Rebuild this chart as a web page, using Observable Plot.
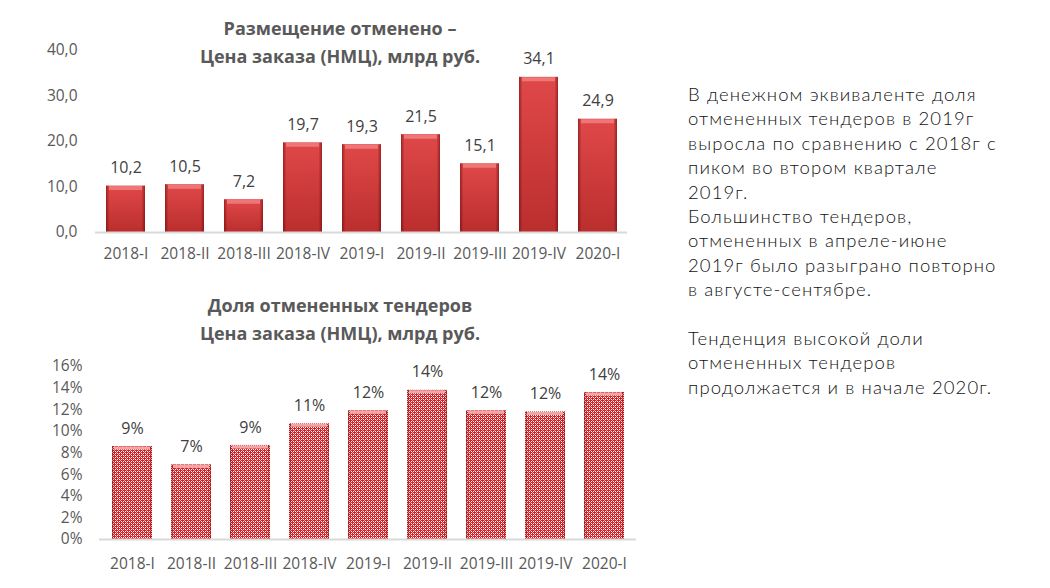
<!DOCTYPE html>
<html>
<head>
<meta charset="utf-8">
<script src="https://cdn.jsdelivr.net/npm/d3@7"></script>
<script src="https://cdn.jsdelivr.net/npm/@observablehq/plot@0.6"></script>
<style>
  html, body { margin: 0; padding: 0; background: #fff; }
  body { width: 1050px; height: 588px; position: relative; overflow: hidden; font-family: "Open Sans", sans-serif; }
  .title { position: absolute; left: 140px; width: 400px; text-align: center; font-weight: bold; font-size: 18px; color: #595959; line-height: 28px; }
  #top { position: absolute; left: 0; top: 0; }
  #bottom { position: absolute; left: 0; top: 330px; }
  #note { position: absolute; left: 688px; top: 82px; width: 360px; font-family: "Lato", sans-serif; font-weight: 300; font-size: 18.5px; letter-spacing: 1.1px; line-height: 24.4px; color: #111; }
</style>
</head>
<body>
<svg width="0" height="0" style="position:absolute">
  <defs>
    <linearGradient id="gradV" x1="0" y1="0" x2="0" y2="1">
      <stop offset="0" stop-color="#e04848"/>
      <stop offset="1" stop-color="#bb2e2e"/>
    </linearGradient>
    <linearGradient id="gradH" x1="0" y1="0" x2="1" y2="0">
      <stop offset="0" stop-color="#5a0000" stop-opacity="0.5"/>
      <stop offset="0.09" stop-color="#5a0000" stop-opacity="0"/>
      <stop offset="0.91" stop-color="#5a0000" stop-opacity="0"/>
      <stop offset="1" stop-color="#5a0000" stop-opacity="0.5"/>
    </linearGradient>
    <pattern id="dots" width="4" height="4" patternUnits="userSpaceOnUse">
      <rect width="4" height="4" fill="#d41f24"/>
      <rect x="1" y="1" width="1" height="1" fill="#ffffff"/>
      <rect x="3" y="3" width="1" height="1" fill="#ffffff"/>
      <rect x="3" y="1" width="1" height="1" fill="#ffffff"/>
      <rect x="1" y="3" width="1" height="1" fill="#ffffff"/>
      <rect x="0" y="2" width="1" height="1" fill="#f0a0a0"/>
      <rect x="2" y="0" width="1" height="1" fill="#f0a0a0"/>
    </pattern>
  </defs>
</svg>
<div class="title" style="top:14px">Размещение отменено –<br>Цена заказа (НМЦ), млрд руб.</div>
<div id="top"></div>
<div class="title" style="top:291px">Доля отмененных тендеров<br>Цена заказа (НМЦ), млрд руб.</div>
<div id="bottom"></div>
<div id="note">В денежном эквиваленте доля<br>отмененных тендеров в 2019г<br>выросла по сравнению с 2018г с<br>пиком во втором квартале<br>2019г.<br>Большинство тендеров,<br>отмененных в апреле-июне<br>2019г было разыграно повторно<br>в августе-сентябре.<br><br>Тенденция высокой доли<br>отмененных тендеров<br>продолжается и в начале 2020г.</div>
<script>
const quarters = ["2018-I", "2018-II", "2018-III", "2018-IV", "2019-I", "2019-II", "2019-III", "2019-IV", "2020-I"];
const cancelledValue = [10.2, 10.5, 7.2, 19.7, 19.3, 21.5, 15.1, 34.1, 24.9];
const cancelledShare = [0.086, 0.069, 0.087, 0.107, 0.119, 0.138, 0.119, 0.118, 0.136];
const valueTicks = [0, 10, 20, 30, 40];
const shareTicks = [0, 0.02, 0.04, 0.06, 0.08, 0.10, 0.12, 0.14, 0.16];

const topData = quarters.map((q, i) => ({q, v: cancelledValue[i]}));
const botData = quarters.map((q, i) => ({q, v: cancelledShare[i]}));

const fmtRu = d3.format(".1f");
const ru1 = v => fmtRu(v).replace(".", ",");
const pct = v => Math.round(v * 100) + "%";

const common = {
  style: {fontFamily: "Open Sans, sans-serif", fontSize: "15.5px", color: "#595959", background: "transparent"}
};

const topPlot = Plot.plot({
  ...common,
  width: 660,
  height: 280,
  marginTop: 50,
  marginBottom: 48,
  marginLeft: 95,
  marginRight: 33,
  x: {domain: quarters, paddingInner: 0.34, paddingOuter: 0.17, label: null, tickSize: 0, tickPadding: 15},
  y: {domain: [0, 40], ticks: valueTicks, tickFormat: ru1, label: null, tickSize: 0, tickPadding: 18},
  marks: [
    Plot.barY(topData, {x: "q", y: "v", fill: "url(#gradV)"}),
    Plot.barY(topData, {x: "q", y: "v", fill: "url(#gradH)"}),
    Plot.tickY(topData, {x: "q", y: "v", stroke: "#ef7676", strokeWidth: 4, dy: 2, inset: 3}),
    Plot.ruleY([0], {stroke: "#d9d9d9", strokeWidth: 2}),
    Plot.text(topData, {x: "q", y: "v", text: d => ru1(d.v), dy: -18, fill: "#404040", fontSize: 16})
  ]
});
document.getElementById("top").append(topPlot);

const botPlot = Plot.plot({
  ...common,
  width: 660,
  height: 258,
  marginTop: 36,
  marginBottom: 49,
  marginLeft: 99,
  marginRight: 24,
  x: {domain: quarters, paddingInner: 0.33, paddingOuter: 0.165, label: null, tickSize: 0, tickPadding: 18},
  y: {domain: [0, 0.16], ticks: shareTicks, tickFormat: pct, label: null, tickSize: 0, tickPadding: 17},
  marks: [
    Plot.barY(botData, {x: "q", y: "v", fill: "url(#dots)"}),
    Plot.barY(botData, {x: "q", y: "v", fill: "url(#gradH)", fillOpacity: 0.6}),
    Plot.tickY(botData, {x: "q", y: "v", stroke: "#f3a5a5", strokeWidth: 3, dy: 1.5, inset: 2}),
    Plot.ruleY([0], {stroke: "#d9d9d9", strokeWidth: 2}),
    Plot.text(botData, {x: "q", y: "v", text: d => pct(d.v), dy: -18, fill: "#404040", fontSize: 16})
  ]
});
document.getElementById("bottom").append(botPlot);
</script>
</body>
</html>
